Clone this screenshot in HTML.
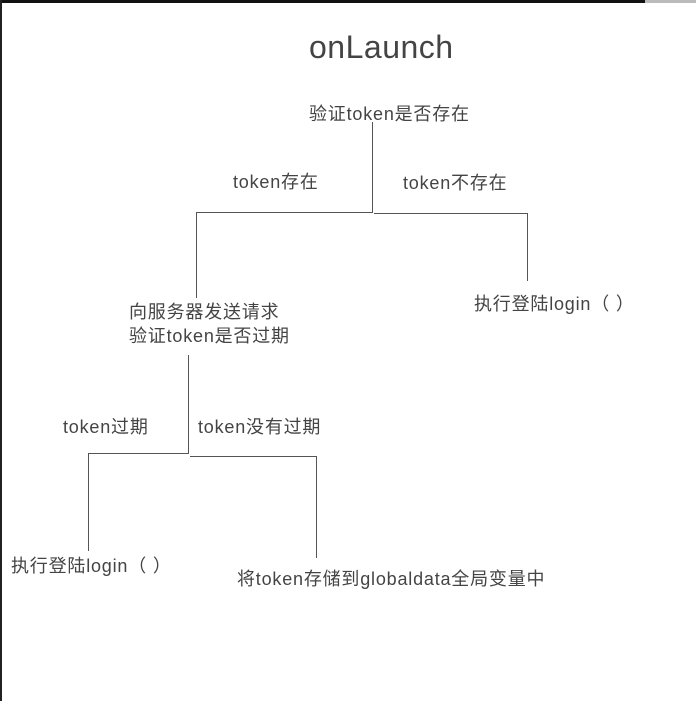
<!DOCTYPE html>
<html><head><meta charset="utf-8"><style>
body{margin:0;width:696px;height:701px;background:#fff;position:relative;overflow:hidden;font-family:"Liberation Sans","Noto Sans CJK SC",sans-serif;color:#444}
.t{position:absolute;font-size:18px;letter-spacing:0.8px;white-space:nowrap;line-height:22px}
.l{position:absolute;background:#555}
</style></head><body>
<div class="l" style="left:0;top:0;width:645px;height:3px;background:#111"></div>
<div class="l" style="left:645px;top:0;width:51px;height:3px;background:#bbb"></div>
<div class="l" style="left:0;top:0;width:2px;height:701px;background:#222"></div>
<div class="t" style="left:309px;top:28px;font-size:32px;letter-spacing:0.5px;line-height:38px">onLaunch</div>
<div class="t" style="left:309px;top:103px">验证token是否存在</div>
<div class="t" style="left:233px;top:171px">token存在</div>
<div class="t" style="left:403px;top:172px">token不存在</div>
<div class="t" style="left:129px;top:301px">向服务器发送请求</div>
<div class="t" style="left:129px;top:325px">验证token是否过期</div>
<div class="t" style="left:474px;top:293px">执行登陆login（ ）</div>
<div class="t" style="left:63px;top:416px">token过期</div>
<div class="t" style="left:198px;top:416px">token没有过期</div>
<div class="t" style="left:11px;top:555px">执行登陆login（ ）</div>
<div class="t" style="left:237px;top:568px">将token存储到globaldata全局变量中</div>
<div class="l" style="left:372px;top:122px;width:1px;height:91px"></div>
<div class="l" style="left:196px;top:212px;width:177px;height:1px"></div>
<div class="l" style="left:196px;top:212px;width:1px;height:86px"></div>
<div class="l" style="left:374px;top:213px;width:154px;height:1px"></div>
<div class="l" style="left:527px;top:213px;width:1px;height:68px"></div>
<div class="l" style="left:188px;top:355px;width:1px;height:99px"></div>
<div class="l" style="left:88px;top:453px;width:101px;height:1px"></div>
<div class="l" style="left:88px;top:453px;width:1px;height:98px"></div>
<div class="l" style="left:190px;top:456px;width:127px;height:1px"></div>
<div class="l" style="left:316px;top:456px;width:1px;height:102px"></div>
</body></html>
